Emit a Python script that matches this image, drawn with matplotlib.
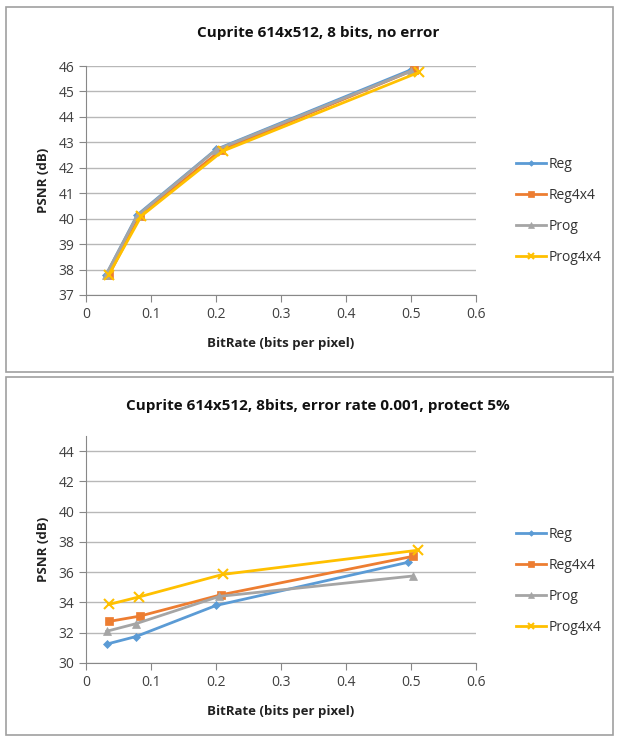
import matplotlib.pyplot as plt
from matplotlib.patches import Rectangle

# PSNR vs bit rate, Cuprite 614x512 scene
series = ["Reg", "Reg4x4", "Prog", "Prog4x4"]
colors = ["#5B9BD5", "#ED7D31", "#A5A5A5", "#FFC000"]
markers = ["D", "s", "^", "x"]
msizes = [4, 6, 6, 7]

# no error
rate_clean = {
    "Reg": [0.031, 0.079, 0.200, 0.500],
    "Reg4x4": [0.035, 0.083, 0.207, 0.505],
    "Prog": [0.031, 0.079, 0.200, 0.500],
    "Prog4x4": [0.035, 0.085, 0.210, 0.512],
}
psnr_clean = {
    "Reg": [37.80, 40.15, 42.72, 45.85],
    "Reg4x4": [37.78, 40.12, 42.68, 45.85],
    "Prog": [37.80, 40.12, 42.70, 45.80],
    "Prog4x4": [37.80, 40.10, 42.65, 45.75],
}

# error rate 0.001, protect 5%
rate_err = {
    "Reg": [0.032, 0.077, 0.200, 0.495],
    "Reg4x4": [0.036, 0.083, 0.207, 0.503],
    "Prog": [0.032, 0.077, 0.205, 0.503],
    "Prog4x4": [0.036, 0.082, 0.210, 0.510],
}
psnr_err = {
    "Reg": [31.25, 31.75, 33.80, 36.65],
    "Reg4x4": [32.75, 33.10, 34.50, 37.05],
    "Prog": [32.10, 32.60, 34.40, 35.75],
    "Prog4x4": [33.88, 34.37, 35.85, 37.45],
}

plt.rcParams['font.family'] = ['Open Sans', 'DejaVu Sans']

fig = plt.figure(figsize=(6.17, 7.38), dpi=100)
W, H = 617, 738

# chart frames
for top, bot in [(7, 372), (377, 735)]:
    fig.patches.append(Rectangle((6 / W, 1 - bot / H), 607 / W, (bot - top) / H,
                                 transform=fig.transFigure, fill=False,
                                 edgecolor="#A0A0A0", linewidth=1.2))


def draw(rect, rates, psnrs, ylim, ystep, title, title_y, legend_y):
    ax = fig.add_axes(rect)
    for name, c, m, ms in zip(series, colors, markers, msizes):
        ax.plot(rates[name], psnrs[name], color=c, marker=m, markersize=ms,
                linewidth=2, markeredgewidth=1.5 if m == "x" else 0.5,
                markeredgecolor=c, label=name)
    ax.set_xlim(0, 0.6)
    ax.set_ylim(*ylim)
    ax.set_xticks([0, 0.1, 0.2, 0.3, 0.4, 0.5, 0.6])
    ax.set_xticklabels(["0", "0.1", "0.2", "0.3", "0.4", "0.5", "0.6"])
    yt = list(range(ylim[0], int(ylim[1]) + 1, ystep))
    ax.set_yticks(yt)
    ax.grid(axis="y", color="#B8B8B8", linewidth=1)
    ax.set_axisbelow(True)
    for s in ["top", "right"]:
        ax.spines[s].set_visible(False)
    for s in ["left", "bottom"]:
        ax.spines[s].set_color("#888888")
    ax.tick_params(colors="#888888", labelcolor="#404040", labelsize=10,
                   length=5, direction="out")
    ax.set_xlabel("BitRate (bits per pixel)", fontsize=9.5, fontweight="bold",
                  color="#222222", labelpad=11)
    ax.set_ylabel("PSNR (dB)", fontsize=9.5, fontweight="bold",
                  color="#222222", labelpad=6)
    fig.text(318 / W, 1 - title_y / H, title, ha="center", va="center",
             fontsize=11, fontweight="bold", color="#111111")
    ax.legend(loc="center left", bbox_to_anchor=(503 / W, 1 - legend_y / H),
              bbox_transform=fig.transFigure, frameon=False, fontsize=10,
              labelspacing=1.15, handlelength=2.2, handletextpad=0.15,
              markerscale=0.7, labelcolor="#333333")
    return ax


draw([86 / W, 1 - 295 / H, 390 / W, 229 / H], rate_clean, psnr_clean,
     (37, 46), 1, "Cuprite 614x512, 8 bits, no error", 33, 211)
ax2 = draw([86 / W, 1 - 663 / H, 390 / W, 227 / H], rate_err, psnr_err,
           (30, 45), 2, "Cuprite 614x512, 8bits, error rate 0.001, protect 5%", 406, 581)
ax2.set_yticks(range(30, 45, 2))

fig.savefig("out.png", dpi=100)
